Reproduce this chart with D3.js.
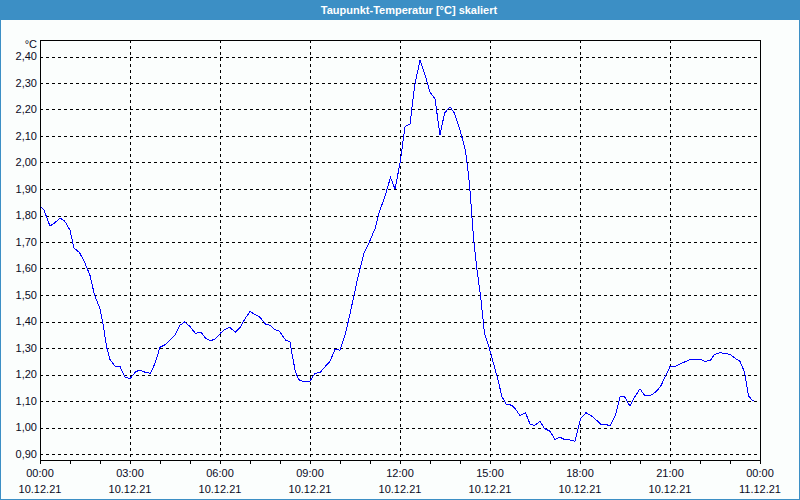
<!DOCTYPE html>
<html>
<head>
<meta charset="utf-8">
<script src="https://cdn.jsdelivr.net/npm/d3@7"></script>
<style>
  html, body { margin: 0; padding: 0; background: #fbfefd; }
  svg { display: block; }
  text { font-family: "Liberation Sans Narrow", "Liberation Sans", Arial, sans-serif; }
</style>
</head>
<body>
<script>
// ---- data ----
const chartTitle = "Taupunkt-Temperatur [°C] skaliert";
const unitLabel = "°C";
// minutes since 10.12.21 00:00
const times = [
  0, 8, 20, 28, 40, 49, 60, 68, 79, 89, 100, 109, 120, 127, 133, 140, 150, 160, 170, 180,
  191, 200, 212, 221, 230, 240, 250, 260, 270, 280, 289, 299, 311, 322, 332, 341, 350, 362, 370, 379,
  391, 401, 410, 420, 430, 440, 451, 460, 469, 479, 491, 500, 505, 511, 518, 529, 539, 550, 560, 569,
  580, 590, 600, 610, 619, 628, 637, 648, 658, 670, 679, 689, 701, 710, 720, 730, 740, 749, 760, 769,
  780, 790, 800, 809, 820, 829, 840, 851, 859, 867, 874, 881, 889, 898, 907, 916, 924, 932, 943, 950,
  960, 971, 980, 989, 1000, 1009, 1020, 1030, 1040, 1049, 1060, 1070, 1081, 1092, 1101, 1110, 1121, 1130, 1140, 1151,
  1160, 1169, 1180, 1189, 1200, 1210, 1220, 1231, 1241, 1250, 1260, 1270, 1280, 1289, 1298, 1309, 1320, 1330, 1340, 1349,
  1360, 1370, 1381, 1391, 1400, 1409, 1417, 1424, 1429
];
const values = [
  1.836, 1.82, 1.76, 1.77, 1.79, 1.78, 1.745, 1.677, 1.66, 1.625, 1.574, 1.50, 1.448, 1.38, 1.305, 1.257, 1.232, 1.23, 1.19, 1.184,
  1.21, 1.217, 1.207, 1.205, 1.242, 1.303, 1.312, 1.33, 1.35, 1.386, 1.398, 1.383, 1.355, 1.36, 1.335, 1.328, 1.333, 1.358, 1.37, 1.378,
  1.36, 1.38, 1.41, 1.438, 1.426, 1.416, 1.39, 1.386, 1.37, 1.363, 1.33, 1.323, 1.267, 1.209, 1.18, 1.172, 1.172, 1.205, 1.207, 1.227,
  1.25, 1.295, 1.292, 1.348, 1.42, 1.499, 1.577, 1.657, 1.697, 1.75, 1.816, 1.866, 1.944, 1.90, 1.997, 2.135, 2.145, 2.286, 2.387, 2.337,
  2.266, 2.24, 2.103, 2.186, 2.21, 2.186, 2.123, 2.045, 1.92, 1.715, 1.594, 1.499, 1.355, 1.303, 1.242, 1.179, 1.116, 1.089, 1.084, 1.072,
  1.045, 1.056, 1.013, 1.008, 1.023, 0.996, 0.986, 0.955, 0.963, 0.955, 0.953, 0.948, 1.033, 1.056, 1.046, 1.033, 1.013, 1.013, 1.006, 1.048,
  1.116, 1.116, 1.081, 1.114, 1.146, 1.119, 1.119, 1.134, 1.154, 1.19, 1.23, 1.23, 1.24, 1.247, 1.255, 1.255, 1.257, 1.25, 1.252, 1.275,
  1.282, 1.28, 1.275, 1.26, 1.25, 1.209, 1.119, 1.104, 1.099
];
const yTickValues = [0.9, 1.0, 1.1, 1.2, 1.3, 1.4, 1.5, 1.6, 1.7, 1.8, 1.9, 2.0, 2.1, 2.2, 2.3, 2.4];
const xTickMinutes = [0, 180, 360, 540, 720, 900, 1080, 1260, 1440];
const xTimeLabels = ["00:00", "03:00", "06:00", "09:00", "12:00", "15:00", "18:00", "21:00", "00:00"];
const xDateLabels = ["10.12.21", "10.12.21", "10.12.21", "10.12.21", "10.12.21", "10.12.21", "10.12.21", "10.12.21", "11.12.21"];
const xMinorMinutes = d3.range(0, 1441, 60);

// ---- layout ----
const W = 800, H = 500;
const plot = { left: 40, right: 760, top: 40, bottom: 460 };

const x = d3.scaleLinear().domain([0, 1440]).range([plot.left, plot.right]);
const y = d3.scaleLinear().domain([0.9, 2.4]).range([454, 56.5]);
const deLocale = d3.formatLocale({ decimal: ",", thousands: ".", grouping: [3], currency: ["", " €"] });
const fmt = deLocale.format(".2f");
const px = v => Math.round(v) + 0.5;

const svg = d3.select("body").append("svg").attr("width", W).attr("height", H);

// background + window frame
svg.append("rect").attr("x", 0).attr("y", 0).attr("width", W).attr("height", H).attr("fill", "#fbfefd");
svg.append("rect").attr("x", 0.5).attr("y", 0.5).attr("width", W - 1).attr("height", H - 1)
  .attr("fill", "none").attr("stroke", "#3c8fc5").attr("stroke-width", 1);
svg.append("rect").attr("x", 0).attr("y", 0).attr("width", W).attr("height", 20).attr("fill", "#3c8fc5");
svg.append("text").attr("x", 409).attr("y", 14).attr("text-anchor", "middle")
  .attr("fill", "#ffffff").style("font-family", "'Liberation Sans', Arial, sans-serif")
  .style("font-size", "11px").style("font-weight", "bold").text(chartTitle);

// grid
const grid = svg.append("g").attr("stroke", "#000").attr("stroke-width", 1)
  .attr("stroke-dasharray", "3,3").attr("shape-rendering", "crispEdges");
grid.selectAll("line.h").data(yTickValues).join("line").attr("class", "h")
  .attr("x1", plot.left).attr("x2", plot.right)
  .attr("y1", d => px(y(d))).attr("y2", d => px(y(d)));
grid.selectAll("line.v").data(xTickMinutes.slice(1, -1)).join("line").attr("class", "v")
  .attr("x1", d => px(x(d))).attr("x2", d => px(x(d)))
  .attr("y1", plot.top).attr("y2", plot.bottom);

// y labels
svg.append("g").selectAll("text").data(yTickValues).join("text")
  .attr("x", 37).attr("y", d => y(d)).attr("dy", "0.36em")
  .attr("text-anchor", "end").attr("fill", "#0a0a1e").style("font-size", "11px")
  .text(d => fmt(d));
svg.append("text").attr("x", 37).attr("y", 48).attr("text-anchor", "end")
  .attr("fill", "#0a0a1e").style("font-size", "11px").text(unitLabel);

// x minor ticks
svg.append("g").attr("stroke", "#000").attr("shape-rendering", "crispEdges")
  .selectAll("line").data(xMinorMinutes).join("line")
  .attr("x1", d => px(x(d))).attr("x2", d => px(x(d)))
  .attr("y1", plot.bottom).attr("y2", plot.bottom + 4);

// x labels
const xl = svg.append("g").attr("fill", "#0a0a1e").style("font-size", "11px").attr("text-anchor", "middle");
xl.selectAll("text.t").data(xTickMinutes).join("text").attr("class", "t")
  .attr("x", d => x(d)).attr("y", 477).text((d, i) => xTimeLabels[i]);
xl.selectAll("text.d").data(xTickMinutes).join("text").attr("class", "d")
  .attr("x", d => x(d)).attr("y", 493).text((d, i) => xDateLabels[i]);

// data line
const series = times.map((t, i) => ({ t, v: values[i] }));
svg.append("path").datum(series)
  .attr("fill", "none").attr("stroke", "#0000ff").attr("stroke-width", 1)
  .attr("shape-rendering", "crispEdges")
  .attr("d", d3.line().x(d => x(d.t)).y(d => y(d.v)));

// plot frame
svg.append("rect").attr("x", plot.left + 0.5).attr("y", plot.top + 0.5)
  .attr("width", plot.right - plot.left).attr("height", plot.bottom - plot.top)
  .attr("fill", "none").attr("stroke", "#000").attr("stroke-width", 1).attr("shape-rendering", "crispEdges");
</script>
</body>
</html>
